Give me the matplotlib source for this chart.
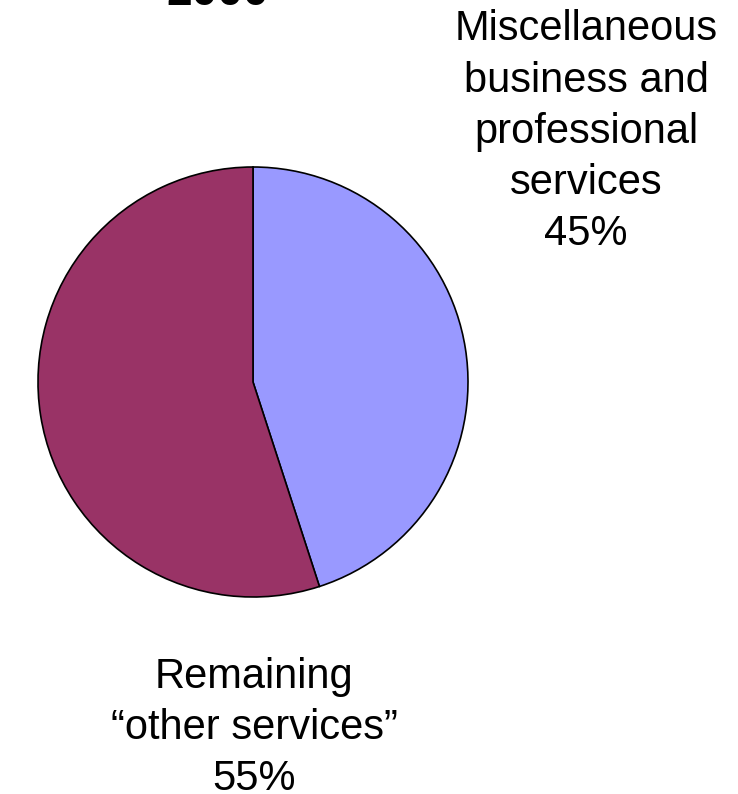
import matplotlib.pyplot as plt

plt.rcParams["font.family"] = ["Liberation Sans", "DejaVu Sans"]

# Share of "other services" in 2000
year_label = "2000"
segments = ["Miscellaneous\nbusiness and\nprofessional\nservices", "Remaining\n\u201cother services\u201d"]
shares = [45, 55]
colors = ["#9999FF", "#993366"]

fig = plt.figure(figsize=(7.38, 7.94), dpi=100)
ax = fig.add_axes([38 / 738, 197 / 794, 430 / 738, 430 / 794])

ax.pie(shares, colors=colors, startangle=90, counterclock=False,
       wedgeprops=dict(edgecolor="black", linewidth=1.2))
ax.set_xlim(-1.0, 1.0)
ax.set_ylim(-1.0, 1.0)
ax.set_aspect("equal")
ax.axis("off")

fig.text(218 / 738, 1 - 5 / 794, year_label, ha="center", va="baseline",
         fontsize=33, fontweight="bold")

# labels anchored on the baseline of the percentage line
fig.text(586 / 738, 1 - 245 / 794, f"{segments[0]}\n{shares[0]}%",
         ha="center", va="baseline", fontsize=30, linespacing=1.36)
fig.text(254 / 738, 1 - 790 / 794, f"{segments[1]}\n{shares[1]}%",
         ha="center", va="baseline", fontsize=30, linespacing=1.36)

fig.savefig("out.png", dpi=100)
